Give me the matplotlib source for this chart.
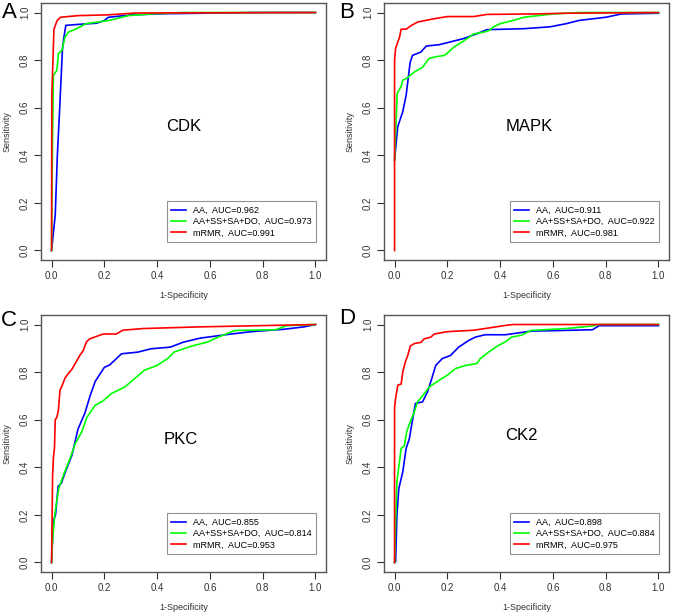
import matplotlib
matplotlib.use('Agg')
import matplotlib.pyplot as plt

# ROC curves (1-Specificity, Sensitivity)
cdk_aa_x = [0, 0.014, 0.022, 0.03, 0.036, 0.041, 0.046, 0.054, 0.10, 0.17, 0.20, 0.215, 0.30, 0.43, 0.78, 1.0]
cdk_aa_y = [0, 0.15, 0.40, 0.58, 0.72, 0.84, 0.89, 0.946, 0.95, 0.955, 0.966, 0.98, 0.99, 0.995, 1.0, 1.0]
cdk_ss_x = [0, 0.002, 0.004, 0.007, 0.02, 0.026, 0.039, 0.051, 0.064, 0.095, 0.13, 0.22, 0.29, 0.39, 0.5, 1.0]
cdk_ss_y = [0, 0.3, 0.49, 0.736, 0.757, 0.827, 0.84, 0.897, 0.918, 0.932, 0.953, 0.967, 0.987, 0.995, 1.0, 1.0]
cdk_mr_x = [0, 0.001, 0.005, 0.009, 0.021, 0.034, 0.10, 0.21, 0.32, 1.0]
cdk_mr_y = [0, 0.65, 0.79, 0.93, 0.966, 0.98, 0.987, 0.99, 0.998, 1.0]

mapk_aa_x = [0, 0.012, 0.031, 0.044, 0.05, 0.059, 0.068, 0.10, 0.12, 0.17, 0.26, 0.31, 0.35, 0.49, 0.59, 0.65, 0.70, 0.80, 0.86, 1.0]
mapk_aa_y = [0.38, 0.52, 0.583, 0.653, 0.708, 0.79, 0.82, 0.834, 0.859, 0.865, 0.89, 0.91, 0.928, 0.932, 0.94, 0.953, 0.967, 0.98, 0.994, 0.997]
mapk_ss_x = [0, 0.01, 0.025, 0.031, 0.044, 0.075, 0.106, 0.13, 0.15, 0.19, 0.225, 0.256, 0.30, 0.34, 0.36, 0.375, 0.40, 0.45, 0.49, 0.60, 0.70, 1.0]
mapk_ss_y = [0.38, 0.66, 0.69, 0.716, 0.722, 0.75, 0.77, 0.806, 0.813, 0.82, 0.855, 0.876, 0.91, 0.918, 0.925, 0.94, 0.953, 0.967, 0.98, 0.994, 1.0, 1.0]
mapk_mr_x = [0, 0, 0.004, 0.019, 0.025, 0.044, 0.0625, 0.0875, 0.15, 0.20, 0.30, 0.35, 0.525, 0.65, 1.0]
mapk_mr_y = [0, 0.80, 0.85, 0.897, 0.93, 0.93, 0.945, 0.96, 0.974, 0.983, 0.983, 0.992, 0.994, 0.997, 1.0]

pkc_aa_x = [0, 0.007, 0.015, 0.025, 0.037, 0.052, 0.077, 0.10, 0.127, 0.146, 0.165, 0.20, 0.22, 0.246, 0.265, 0.327, 0.377, 0.45, 0.50, 0.564, 0.68, 0.757, 0.88, 0.956, 1.0]
pkc_aa_y = [0, 0.175, 0.2, 0.32, 0.333, 0.38, 0.45, 0.56, 0.63, 0.70, 0.76, 0.82, 0.83, 0.857, 0.877, 0.884, 0.898, 0.905, 0.926, 0.943, 0.96, 0.97, 0.98, 0.99, 1.0]
pkc_ss_x = [0, 0.0025, 0.012, 0.027, 0.046, 0.071, 0.09, 0.115, 0.134, 0.165, 0.196, 0.227, 0.277, 0.315, 0.352, 0.40, 0.44, 0.464, 0.50, 0.54, 0.59, 0.627, 0.695, 0.85, 0.89, 1.0]
pkc_ss_y = [0, 0.075, 0.2, 0.31, 0.37, 0.44, 0.50, 0.55, 0.61, 0.66, 0.68, 0.71, 0.737, 0.773, 0.808, 0.828, 0.857, 0.884, 0.898, 0.912, 0.926, 0.945, 0.975, 0.978, 0.995, 1.0]
pkc_mr_x = [0, 0.004, 0.007, 0.011, 0.014, 0.02, 0.026, 0.032, 0.039, 0.051, 0.064, 0.076, 0.089, 0.107, 0.12, 0.132, 0.145, 0.17, 0.195, 0.245, 0.27, 0.345, 0.557, 1.0]
pkc_mr_y = [0, 0.37, 0.44, 0.48, 0.60, 0.61, 0.64, 0.725, 0.74, 0.775, 0.795, 0.81, 0.835, 0.87, 0.89, 0.927, 0.94, 0.95, 0.96, 0.96, 0.976, 0.983, 0.99, 1.0]

ck2_aa_x = [0, 0.004, 0.009, 0.016, 0.031, 0.044, 0.056, 0.069, 0.079, 0.106, 0.125, 0.141, 0.156, 0.181, 0.212, 0.243, 0.281, 0.306, 0.343, 0.42, 0.49, 0.518, 0.75, 0.775, 1.0]
ck2_aa_y = [0, 0.005, 0.2, 0.31, 0.38, 0.48, 0.52, 0.605, 0.668, 0.675, 0.717, 0.773, 0.828, 0.857, 0.87, 0.905, 0.933, 0.947, 0.957, 0.957, 0.968, 0.972, 0.978, 0.995, 0.995]
ck2_ss_x = [0, 0.004, 0.009, 0.025, 0.037, 0.046, 0.059, 0.075, 0.087, 0.106, 0.131, 0.169, 0.20, 0.231, 0.269, 0.312, 0.325, 0.356, 0.393, 0.418, 0.443, 0.48, 0.518, 0.65, 0.75, 0.775, 1.0]
ck2_ss_y = [0, 0.17, 0.34, 0.48, 0.49, 0.55, 0.59, 0.633, 0.675, 0.70, 0.737, 0.766, 0.787, 0.815, 0.828, 0.836, 0.857, 0.884, 0.912, 0.926, 0.947, 0.955, 0.975, 0.983, 0.994, 1.0, 1.0]
ck2_mr_x = [0, 0, 0.004, 0.0125, 0.025, 0.031, 0.04, 0.05, 0.06, 0.075, 0.10, 0.1125, 0.1375, 0.15, 0.20, 0.30, 0.36, 0.425, 0.45, 1.0]
ck2_mr_y = [0, 0.65, 0.69, 0.745, 0.75, 0.80, 0.84, 0.87, 0.91, 0.92, 0.925, 0.94, 0.947, 0.96, 0.97, 0.976, 0.986, 0.997, 1.0, 1.0]

names = ['CDK', 'MAPK', 'PKC', 'CK2']
letters = ['A', 'B', 'C', 'D']
auc_aa = [0.962, 0.911, 0.855, 0.898]
auc_ss = [0.973, 0.922, 0.814, 0.884]
auc_mr = [0.991, 0.981, 0.953, 0.975]

curves = [
    [(cdk_aa_x, cdk_aa_y), (cdk_ss_x, cdk_ss_y), (cdk_mr_x, cdk_mr_y)],
    [(mapk_aa_x, mapk_aa_y), (mapk_ss_x, mapk_ss_y), (mapk_mr_x, mapk_mr_y)],
    [(pkc_aa_x, pkc_aa_y), (pkc_ss_x, pkc_ss_y), (pkc_mr_x, pkc_mr_y)],
    [(ck2_aa_x, ck2_aa_y), (ck2_ss_x, ck2_ss_y), (ck2_mr_x, ck2_mr_y)],
]
name_pos = [(0.5, 0.52), (0.51, 0.52), (0.49, 0.515), (0.48, 0.535)]

plt.rcParams['font.family'] = ['Liberation Sans', 'DejaVu Sans']
fig = plt.figure(figsize=(6.75, 6.15), dpi=100)

W, H = 675.0, 615.0
boxes = [(41, 3), (384, 3), (41, 315), (384, 315)]   # left, top in px
letter_pos = [(9, 13), (347, 13), (9, 321), (347, 319)]
cols = ['#0000FF', '#00FF00', '#FF0000']

for i in range(4):
    l, t = boxes[i]
    ax = fig.add_axes([l / W, 1 - (t + 257) / H, 285 / W, 257 / H])
    aa, ss, mr = curves[i]
    ax.plot(aa[0], aa[1], color=cols[0], lw=1.2,
            label='AA,  AUC=%.3f' % auc_aa[i])
    ax.plot(ss[0], ss[1], color=cols[1], lw=1.2,
            label='AA+SS+SA+DO,  AUC=%.3f' % auc_ss[i])
    ax.plot(mr[0], mr[1], color=cols[2], lw=1.2,
            label='mRMR,  AUC=%.3f' % auc_mr[i])
    ax.set_xlim(-0.04, 1.04)
    ax.set_ylim(-0.04, 1.04)
    ticks = [0, 0.2, 0.4, 0.6, 0.8, 1.0]
    ax.set_xticks(ticks)
    ax.set_yticks(ticks)
    ax.set_xticklabels(['%.1f' % v for v in ticks])
    ax.set_yticklabels(['%.1f' % v for v in ticks], rotation=90, va='center')
    ax.tick_params(length=5, width=0.8, pad=3, labelsize=7, colors='#333333')
    for s in ax.spines.values():
        s.set_color('#555555')
        s.set_linewidth(1.0)
    ax.set_xlabel('1-Specificity', fontsize=6.5, color='#333333')
    ax.set_ylabel('Sensitivity', fontsize=6.5, color='#333333')
    ax.xaxis.set_label_coords(0.5, -0.12)
    ax.yaxis.set_label_coords(-0.102, 0.5)
    ax.text(name_pos[i][0], name_pos[i][1], names[i], fontsize=12,
            ha='center', va='center')
    leg = ax.legend(loc='lower right', bbox_to_anchor=(0.965, 0.07),
                    borderaxespad=0, fontsize=6.5, fancybox=False,
                    handlelength=1.6, handletextpad=0.8, labelspacing=0.25,
                    borderpad=0.5)
    leg.get_frame().set_edgecolor('#777777')
    leg.get_frame().set_linewidth(0.8)
    fig.text(letter_pos[i][0] / W, 1 - letter_pos[i][1] / H, letters[i],
             fontsize=16, ha='center', va='center')

fig.savefig('out.png', dpi=100)
